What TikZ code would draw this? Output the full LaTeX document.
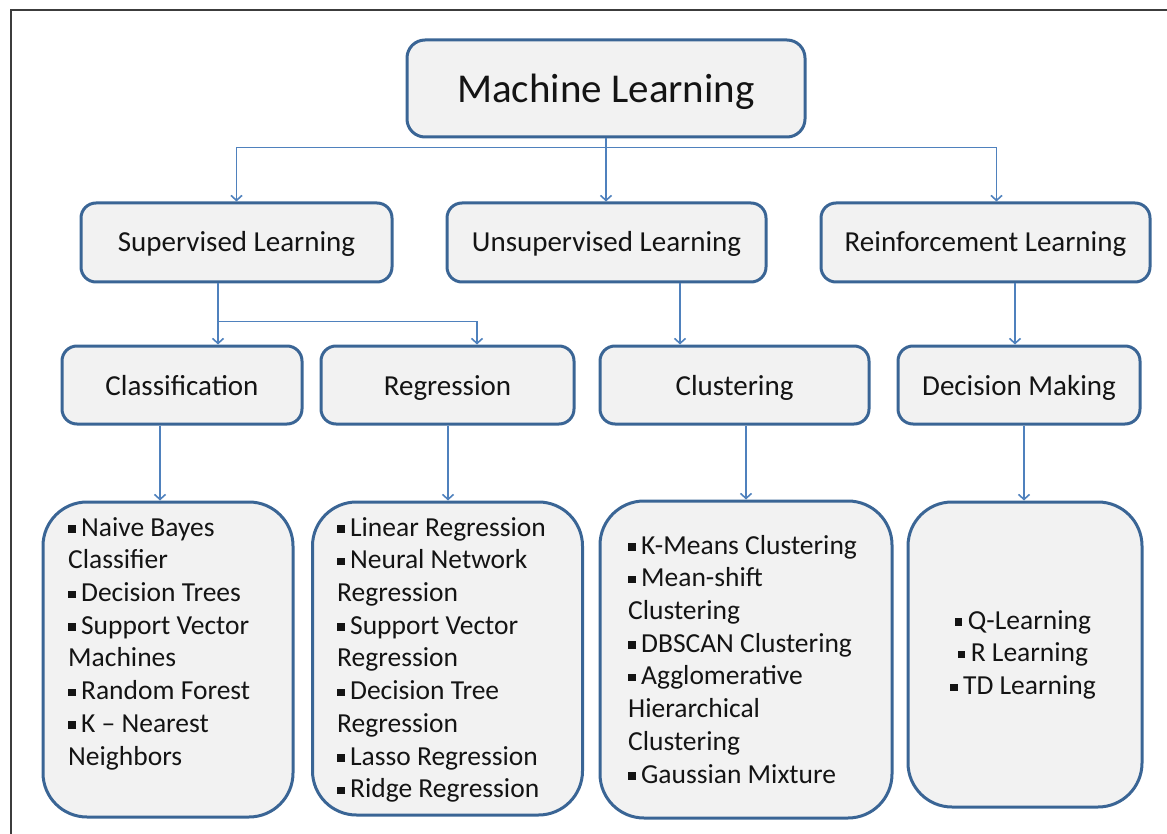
\documentclass[tikz,border=0pt]{standalone}
\usepackage{fontspec}
\setmainfont{Carlito}
\usetikzlibrary{arrows.meta}
\definecolor{boxfill}{HTML}{F2F2F2}
\definecolor{boxline}{HTML}{3A6595}
\definecolor{arrowc}{HTML}{4F81BD}
\definecolor{txt}{HTML}{141414}
\definecolor{framec}{HTML}{3C3C3C}
\newcommand{\bul}{\raisebox{0.13em}{\rule{0.27em}{0.27em}}\hspace{0.2em}}
\begin{document}
\begin{tikzpicture}[x=1pt,y=-1pt,
  box/.style={draw=boxline, line width=3pt, fill=boxfill, rounded corners=15pt, text=txt, inner sep=0pt},
  big/.style={box, rounded corners=44pt},
  lvl/.style={font=\fontsize{29}{35}\selectfont, text depth=0pt},
  listtxt/.style={text=txt, inner sep=0pt, font=\fontsize{27.5}{32.7}\selectfont},
  arr/.style={draw=arrowc, line width=1.6pt, -{Straight Barb[length=5pt,width=11pt]}},
  conn/.style={draw=arrowc, line width=1.6pt}]
\useasboundingbox (0,0) rectangle (1167,834);
\draw[framec, line width=1.8pt] (11,834) -- (11,10) -- (1167,10);

% level 0
\node[box, minimum width=398pt, minimum height=97pt, rounded corners=18pt, font=\fontsize{41}{48}\selectfont, text height=29pt, text depth=0pt] (ml) at (606,88.5) {Machine Learning};

% level 1
\node[box, lvl, text height=18pt, minimum width=311pt, minimum height=79pt] (sup) at (236.5,242.5) {Supervised Learning};
\node[box, lvl, text height=18pt, minimum width=319pt, minimum height=79pt] (uns) at (606.5,242.5) {Unsupervised Learning};
\node[box, lvl, text height=18pt, minimum width=329pt, minimum height=79pt] (rl) at (985.5,242.5) {Reinforcement Learning};

% level 2
\node[box, lvl, text height=21pt, minimum width=240pt, minimum height=78pt] (cls) at (182,385) {Classification};
\node[box, lvl, text height=21pt, minimum width=253pt, minimum height=78pt] (reg) at (447.5,385) {Regression};
\node[box, lvl, text height=21pt, minimum width=269pt, minimum height=78pt] (clu) at (734.5,385) {Clustering};
\node[box, lvl, text height=21pt, minimum width=242pt, minimum height=78pt] (dm) at (1019,385) {Decision Making};

% level 3 boxes
\node[big, minimum width=250pt, minimum height=315pt] (clist) at (168,659.5) {};
\node[big, minimum width=270pt, minimum height=313pt] (rlist) at (447.5,658.5) {};
\node[big, minimum width=292pt, minimum height=317pt] (culist) at (746,659.5) {};
\node[big, minimum width=234pt, minimum height=305pt] (dlist) at (1025,654.5) {};

% level 3 texts
\node[listtxt, anchor=north west, align=left] (clt) at (68,513.1)
  {\strut\bul Naive Bayes\\Classifier\\\bul Decision Trees\\\bul Support Vector\\Machines\\\bul Random Forest\\\bul K -- Nearest\\Neighbors};
\node[listtxt, anchor=north west, align=left] (rlt) at (337,513.1)
  {\strut\bul Linear Regression\\\bul Neural Network\\Regression\\\bul Support Vector\\Regression\\\bul Decision Tree\\Regression\\\bul Lasso Regression\\\bul Ridge Regression};
\node[listtxt, anchor=north west, align=left] (cut) at (628,531.1)
  {\strut\bul K-Means Clustering\\\bul Mean-shift\\Clustering\\\bul DBSCAN Clustering\\\bul Agglomerative\\Hierarchical\\Clustering\\\bul Gaussian Mixture};
\node[listtxt, anchor=north, align=center] (dlt) at (1023,606.1)
  {\strut\bul Q-Learning\\\bul R Learning\\\bul TD Learning};

% connectors level 0 -> 1
\draw[conn] (ml.south) -- ++(0,9) coordinate (hub);
\draw[arr] (hub) -| (sup.north);
\draw[arr] (hub) -- (hub |- uns.north);
\draw[arr] (hub) -| ([xshift=11pt]rl.north);

% level 1 -> 2
\draw[conn] ([xshift=-18.5pt]sup.south) -- ++(0,38) coordinate (sj);
\draw[arr] (sj) -- (sj |- cls.north);
\draw[arr] (sj) -| ([xshift=29.5pt]reg.north);
\draw[arr] ([xshift=73.5pt]uns.south) -- ([xshift=73.5pt]uns.south |- clu.north);
\draw[arr] ([xshift=29.5pt]rl.south) -- ([xshift=29.5pt]rl.south |- dm.north);

% level 2 -> 3
\draw[arr] ([xshift=-22pt]cls.south) -- ([xshift=-22pt]cls.south |- clist.north);
\draw[arr] ([xshift=0.5pt]reg.south) -- ([xshift=0.5pt]reg.south |- rlist.north);
\draw[arr] ([xshift=11.5pt]clu.south) -- ([xshift=11.5pt]clu.south |- culist.north);
\draw[arr] ([xshift=5pt]dm.south) -- ([xshift=5pt]dm.south |- dlist.north);
\end{tikzpicture}
\end{document}
